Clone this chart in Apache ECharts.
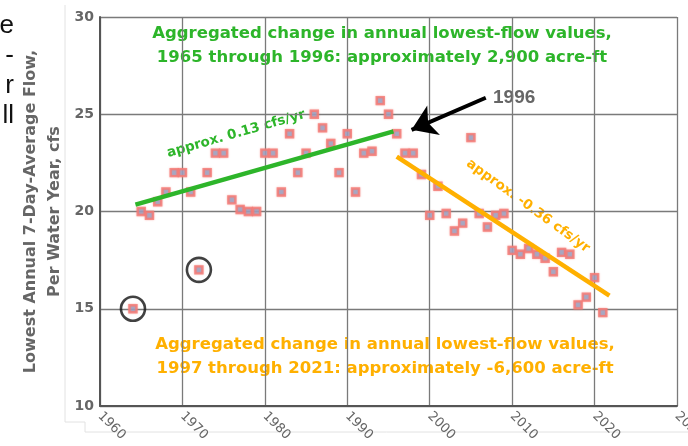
<!DOCTYPE html>
<html>
<head>
<meta charset="utf-8">
<script src="https://cdn.jsdelivr.net/npm/echarts@6/dist/echarts.min.js"></script>
<style>
  html, body { margin: 0; padding: 0; background: #fff; }
  #main { width: 688px; height: 446px; }
</style>
</head>
<body>
<div id="main"></div>
<script>
// water years and lowest annual 7-day-average flow (cfs)
var years = [1964, 1965, 1966, 1967, 1968, 1969, 1970, 1971, 1972, 1973,
  1974, 1975, 1976, 1977, 1978, 1979, 1980, 1981, 1982, 1983,
  1984, 1985, 1986, 1987, 1988, 1989, 1990, 1991, 1992, 1993,
  1994, 1995, 1996, 1997, 1998, 1999, 2000, 2001, 2002, 2003,
  2004, 2005, 2006, 2007, 2008, 2009, 2010, 2011, 2012, 2013,
  2014, 2015, 2016, 2017, 2018, 2019, 2020, 2021];
var flows = [15.0, 20.0, 19.8, 20.5, 21.0, 22.0, 22.0, 21.0, 17.0, 22.0,
  23.0, 23.0, 20.6, 20.1, 20.0, 20.0, 23.0, 23.0, 21.0, 24.0,
  22.0, 23.0, 25.0, 24.3, 23.5, 22.0, 24.0, 21.0, 23.0, 23.1,
  25.7, 25.0, 24.0, 23.0, 23.0, 21.9, 19.8, 21.3, 19.9, 19.0,
  19.4, 23.8, 19.9, 19.2, 19.8, 19.9, 18.0, 17.8, 18.1, 17.8,
  17.6, 16.9, 17.9, 17.8, 15.2, 15.6, 16.6, 14.8];

// circled outliers
var circledYears = [1964, 1972];
var circledFlows = [15.0, 17.0];

// trend line end points
var trendEarlyX = [1964.3, 1995.6];
var trendEarlyY = [20.35, 24.12];
var trendLateX = [1996.0, 2021.8];
var trendLateY = [22.82, 15.68];

// arrow to 1996 (tail, head)
var arrowX = [2006.8, 1997.8];
var arrowY = [25.85, 24.2];

var xTicks = [1960, 1970, 1980, 1990, 2000, 2010, 2020, 2030];
var yTicks = [10, 15, 20, 25, 30];

var green = '#2db52a';
var orange = '#ffb000';
var grey = '#666';
var wideFont = '"DejaVu Sans"';

var chart = echarts.init(document.getElementById('main'));

var option = {
  animation: false,
  backgroundColor: '#fff',
  grid: { left: 100, right: 11, top: 17, bottom: 40, containLabel: false, outerBoundsMode: 'none' },
  xAxis: {
    type: 'value',
    min: xTicks[0],
    max: xTicks[xTicks.length - 1],
    interval: 10,
    axisLine: { show: true, lineStyle: { color: '#555', width: 2 } },
    axisTick: { show: false },
    axisLabel: {
      rotate: -45,
      margin: 8,
      color: grey,
      fontSize: 13,
      fontFamily: wideFont,
      formatter: function (v) { return String(v); }
    },
    splitLine: { show: true, lineStyle: { color: '#7a7a7a', width: 1.3 } }
  },
  yAxis: {
    type: 'value',
    min: yTicks[0],
    max: yTicks[yTicks.length - 1],
    interval: 5,
    name: 'Lowest Annual 7-Day-Average Flow,\nPer Water Year, cfs',
    nameLocation: 'middle',
    nameGap: 33,
    nameMoveOverlap: false,
    nameTextStyle: {
      color: grey,
      fontSize: 16,
      fontWeight: 'bold',
      fontFamily: wideFont,
      lineHeight: 24
    },
    axisLine: { show: true, lineStyle: { color: '#555', width: 2 } },
    axisTick: { show: false },
    axisLabel: {
      margin: 6,
      color: grey,
      fontSize: 14,
      fontWeight: 'bold',
      fontFamily: wideFont
    },
    splitLine: { show: true, lineStyle: { color: '#7a7a7a', width: 1.3 } }
  },
  series: [
    {
      type: 'line',
      data: trendEarlyX.map(function (x, i) { return [x, trendEarlyY[i]]; }),
      symbol: 'none',
      lineStyle: { color: green, width: 4.5 },
      z: 3
    },
    {
      type: 'line',
      data: trendLateX.map(function (x, i) { return [x, trendLateY[i]]; }),
      symbol: 'none',
      lineStyle: { color: orange, width: 4.5 },
      z: 3
    },
    {
      type: 'scatter',
      data: years.map(function (y, i) { return [y, flows[i]]; }),
      symbol: 'rect',
      symbolSize: 7,
      itemStyle: {
        color: '#8fa3c8',
        borderColor: '#f47b75',
        borderWidth: 2.4,
        shadowBlur: 2,
        shadowColor: 'rgba(244,123,117,0.6)'
      },
      z: 2
    },
    {
      type: 'scatter',
      data: circledYears.map(function (y, i) { return [y, circledFlows[i]]; }),
      symbol: 'circle',
      symbolSize: 24,
      itemStyle: { color: 'transparent', borderColor: '#111', borderWidth: 2.6 },
      z: 4
    },
    {
      type: 'line',
      data: [],
      markLine: {
        silent: true,
        symbol: ['none', 'arrow'],
        symbolSize: 24,
        label: { show: false },
        lineStyle: { color: '#000', width: 4, type: 'solid' },
        data: [[
          { coord: [arrowX[0], arrowY[0]] },
          { coord: [arrowX[1], arrowY[1]] }
        ]]
      },
      z: 5
    }
  ],
  graphic: [
    // faint frame left over from the page crop
    {
      type: 'polyline',
      shape: { points: [[65, 5], [65, 422], [85, 422], [85, 432], [688, 432]] },
      style: { stroke: '#e2e2e2', lineWidth: 1, fill: null },
      z: -1
    },
    {
      type: 'text', x: 14, y: 11,
      style: {
        text: 'e\n-\nr\nll', align: 'right', fill: '#111',
        font: '26px "Liberation Sans"', lineHeight: 30
      }
    },
    {
      type: 'text', x: 382, y: 46,
      style: {
        text: 'Aggregated change in annual lowest-flow values,\n1965 through 1996: approximately 2,900 acre-ft',
        align: 'center', verticalAlign: 'middle', fill: green,
        font: 'bold 16.5px ' + wideFont, lineHeight: 24
      }
    },
    {
      type: 'text', x: 385, y: 357,
      style: {
        text: 'Aggregated change in annual lowest-flow values,\n1997 through 2021: approximately -6,600 acre-ft',
        align: 'center', verticalAlign: 'middle', fill: orange,
        font: 'bold 16.5px ' + wideFont, lineHeight: 24
      }
    },
    {
      type: 'text', x: 236, y: 134, rotation: 16 * Math.PI / 180,
      style: {
        text: 'approx. 0.13 cfs/yr', align: 'center', verticalAlign: 'middle',
        fill: green, font: 'bold 13.5px ' + wideFont
      }
    },
    {
      type: 'text', x: 528, y: 206, rotation: -36 * Math.PI / 180,
      style: {
        text: 'approx. -0.36 cfs/yr', align: 'center', verticalAlign: 'middle',
        fill: orange, font: 'bold 13.5px ' + wideFont
      }
    },
    {
      type: 'text', x: 493, y: 98,
      style: {
        text: '1996', align: 'left', verticalAlign: 'middle',
        fill: grey, font: 'bold 19px "Liberation Sans"'
      }
    }
  ]
};

chart.setOption(option);
</script>
</body>
</html>
